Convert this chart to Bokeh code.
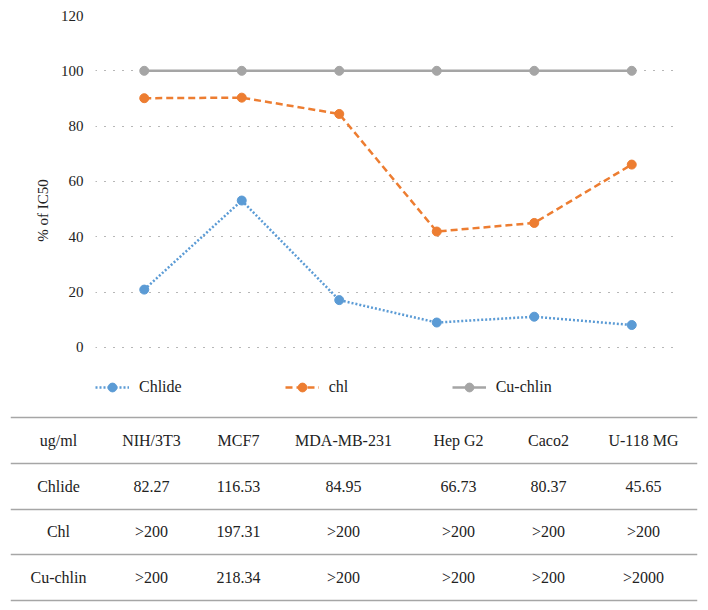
from bokeh.plotting import figure
from bokeh.models import Legend, LegendItem, FactorRange, FixedTicker, ColumnDataSource, Range1d
from bokeh.core.properties import value
from bokeh.embed import file_html
from bokeh.resources import INLINE

# ---------------- data ----------------
cells = ["NIH/3T3", "MCF7", "MDA-MB-231", "Hep G2", "Caco2", "U-118 MG"]
chlide = [20.9, 53.1, 17.1, 9.0, 11.1, 8.1]
chl = [90.1, 90.3, 84.4, 41.9, 45.0, 66.1]
cu_chlin = [100, 100, 100, 100, 100, 100]
y_ticks = [0, 20, 40, 60, 80, 100, 120]
series_names = ["Chlide", "chl", "Cu-chlin"]

table_header = ["ug/ml"] + cells
table_row_names = ["Chlide", "Chl", "Cu-chlin"]
table_chlide = ["82.27", "116.53", "84.95", "66.73", "80.37", "45.65"]
table_chl = [">200", "197.31", ">200", ">200", ">200", ">200"]
table_cu = [">200", "218.34", ">200", ">200", ">200", ">2000"]

# ---------------- style ----------------
FONT = "Liberation Serif"
TXT = "#222222"
BLUE, ORANGE, GRAY = "#5B9BD5", "#ED7D31", "#A5A5A5"
W = 700

# ---------------- chart ----------------
p = figure(width=W, height=405,
           x_range=FactorRange(factors=cells, range_padding=0),
           y_range=Range1d(-21, 120),
           output_backend="svg", toolbar_location=None,
           min_border_left=95, min_border_right=W - 680,
           min_border_top=15, min_border_bottom=0,
           x_axis_location=None)
p.outline_line_color = None
p.xgrid.visible = False
p.ygrid.grid_line_color = "#6f6f6f"
p.ygrid.grid_line_dash = "1 8"
p.ygrid.grid_line_width = 1
p.yaxis.ticker = FixedTicker(ticks=y_ticks)
p.yaxis.axis_line_color = None
p.yaxis.major_tick_line_color = None
p.yaxis.major_tick_out = 0
p.yaxis.major_tick_in = 0
p.yaxis.minor_tick_line_color = None
p.yaxis.minor_tick_out = 0
p.yaxis.major_label_standoff = 12
p.yaxis.major_label_text_font = FONT
p.yaxis.major_label_text_font_size = "15px"
p.yaxis.major_label_text_color = TXT
p.yaxis.axis_label = "% of IC50"
p.yaxis.axis_label_text_font = FONT
p.yaxis.axis_label_text_font_size = "15px"
p.yaxis.axis_label_text_font_style = "normal"
p.yaxis.axis_label_text_color = TXT
p.yaxis.axis_label_standoff = 7

src = ColumnDataSource(dict(x=cells, chlide=chlide, chl=chl, cu=cu_chlin))

l1 = p.line("x", "chlide", source=src, line_color=BLUE, line_width=2.5, line_dash="2 2")
s1 = p.scatter("x", "chlide", source=src, size=9, fill_color=BLUE, line_color=BLUE)
l2 = p.line("x", "chl", source=src, line_color=ORANGE, line_width=2.5, line_dash="7 4")
s2 = p.scatter("x", "chl", source=src, size=9, fill_color=ORANGE, line_color=ORANGE)
l3 = p.line("x", "cu", source=src, line_color=GRAY, line_width=2.5)
s3 = p.scatter("x", "cu", source=src, size=9, fill_color=GRAY, line_color=GRAY)

legend = Legend(items=[LegendItem(label=series_names[0], renderers=[l1, s1]),
                       LegendItem(label=series_names[1], renderers=[l2, s2]),
                       LegendItem(label=series_names[2], renderers=[l3, s3])],
                orientation="horizontal", location=(0, 7),
                padding=0, margin=0, spacing=103,
                glyph_width=34, glyph_height=22, label_standoff=10,
                background_fill_alpha=0, border_line_color=None,
                label_text_font=FONT, label_text_font_size="16px",
                label_text_color=TXT)
p.add_layout(legend)

# ---------------- table ----------------
t = figure(width=W, height=197, x_range=(0, 687), y_range=(-0.05, 4.05),
           output_backend="svg", toolbar_location=None,
           min_border_left=10, min_border_right=W - 697, min_border_top=10, min_border_bottom=0,
           x_axis_location=None, y_axis_location=None)
t.outline_line_color = None
t.grid.visible = False

t.hspan(y=[0, 1, 2, 3, 4], line_color="#a6a6a6", line_width=1.5)

col_x = [48, 141, 228, 333, 448, 538, 633]
rows = [table_header,
        [table_row_names[0]] + table_chlide,
        [table_row_names[1]] + table_chl,
        [table_row_names[2]] + table_cu]
tx, ty, tt = [], [], []
for i, row in enumerate(rows):
    for j, cell in enumerate(row):
        tx.append(col_x[j])
        ty.append(3.5 - i)
        tt.append(cell)
t.text(x=tx, y=ty, text=tt, text_align="center", text_baseline="middle",
       text_font=value(FONT), text_font_size="16px", text_color=TXT)

open("out.html", "w").write(file_html([p, t], INLINE))
